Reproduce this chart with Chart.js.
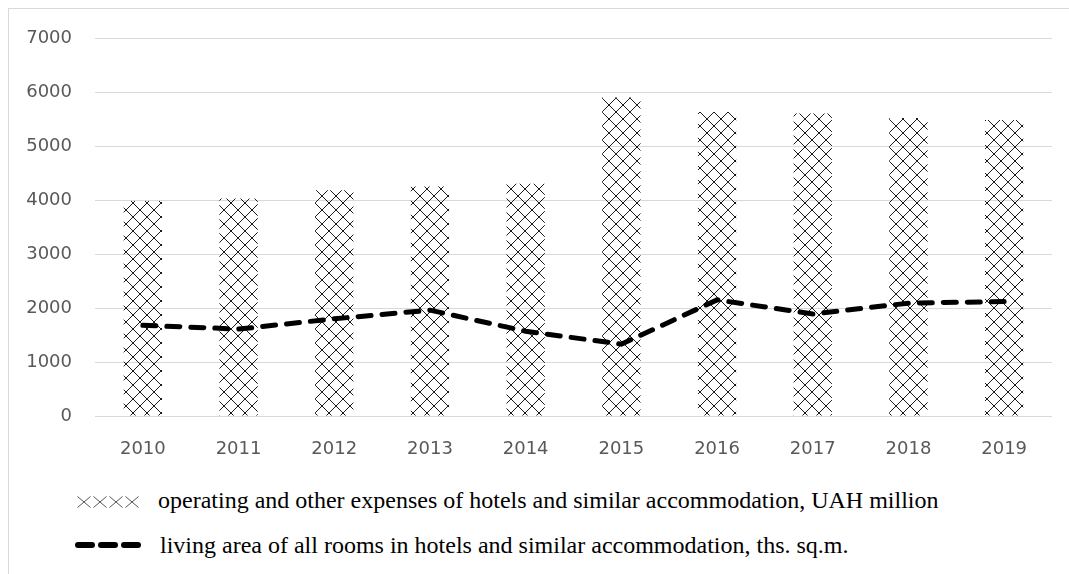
<!DOCTYPE html>
<html>
<head>
<meta charset="utf-8">
<script src="https://cdn.jsdelivr.net/npm/chart.js@4.4.1/dist/chart.umd.min.js"></script>
<style>
  html, body { margin: 0; padding: 0; background: #fff; width: 1069px; height: 574px; overflow: hidden; }
  #frame { position: absolute; left: 8px; top: 8px; width: 1120px; height: 620px; border: 1px solid #d9d9d9; box-sizing: border-box; }
  #wrap { position: absolute; left: 0; top: 0; width: 1069px; height: 470px; }
  .leg { position: absolute; font-family: "Liberation Serif", "Times New Roman", serif; font-size: 24px; color: #000; white-space: nowrap; line-height: 1; }
  .sym { position: absolute; }
</style>
</head>
<body>
<div id="frame"></div>
<div id="wrap"><canvas id="c" width="1069" height="470"></canvas></div>
<canvas class="sym" id="sym1" width="68" height="14" style="left:76px;top:495px"></canvas>
<canvas class="sym" id="sym2" width="70" height="10" style="left:73px;top:540px"></canvas>
<div class="leg" id="leg1" style="left:158px;top:488px"></div>
<div class="leg" id="leg2" style="left:160px;top:533px"></div>
<script>
const categories = ["2010","2011","2012","2013","2014","2015","2016","2017","2018","2019"];
const expenses = [3980, 4030, 4180, 4250, 4300, 5900, 5630, 5600, 5520, 5480];
const livingArea = [1680, 1610, 1800, 1960, 1570, 1330, 2150, 1890, 2090, 2120];
const yTicks = [0, 1000, 2000, 3000, 4000, 5000, 6000, 7000];
const seriesNames = [
  "operating and other expenses of hotels and similar accommodation, UAH million",
  "living area of all rooms in hotels and similar accommodation, ths. sq.m."
];

document.getElementById('leg1').textContent = seriesNames[0];
document.getElementById('leg2').textContent = seriesNames[1];

// crosshatch pattern tile
const P = 14;
const tile = document.createElement('canvas');
tile.width = P; tile.height = P;
const tc = tile.getContext('2d');
tc.fillStyle = '#1a1a1a';
for (let i = 0; i < P; i++) {
  tc.fillRect(i, i, 1, 1);
  tc.fillRect(P - 1 - i, i, 1, 1);
}
const ctx = document.getElementById('c').getContext('2d');
const pattern = ctx.createPattern(tile, 'repeat');

// legend symbols
(function(){
  const s1 = document.getElementById('sym1').getContext('2d');
  s1.strokeStyle = '#555'; s1.lineWidth = 1;
  for (let k = 0; k < 4; k++) {
    const x0 = 1 + k * 16;
    s1.beginPath();
    s1.moveTo(x0 + 0.5, 1.5); s1.lineTo(x0 + 13.5, 12.5);
    s1.moveTo(x0 + 13.5, 1.5); s1.lineTo(x0 + 0.5, 12.5);
    s1.stroke();
  }
  const s2 = document.getElementById('sym2').getContext('2d');
  s2.strokeStyle = '#000'; s2.lineWidth = 6; s2.lineCap = 'round';
  for (let k = 0; k < 3; k++) {
    const x0 = 5 + k * 23;
    s2.beginPath(); s2.moveTo(x0, 5); s2.lineTo(x0 + 14, 5); s2.stroke();
  }
})();

new Chart(ctx, {
  data: {
    labels: categories,
    datasets: [
      {
        type: 'line',
        label: seriesNames[1],
        data: livingArea,
        borderColor: '#000',
        borderWidth: 5,
        borderDash: [13, 11],
        borderCapStyle: 'round',
        pointRadius: 0,
        tension: 0,
        fill: false,
        order: 0
      },
      {
        type: 'bar',
        label: seriesNames[0],
        data: expenses,
        backgroundColor: pattern,
        borderWidth: 0,
        barPercentage: 0.4,
        categoryPercentage: 1.0,
        order: 1
      }
    ]
  },
  options: {
    responsive: false,
    devicePixelRatio: 1,
    animation: false,
    layout: { padding: { top: 38, right: 17, bottom: 0, left: 0 } },
    plugins: { legend: { display: false }, tooltip: { enabled: false } },
    scales: {
      x: {
        grid: { display: false },
        border: { display: false },
        ticks: { color: '#595959', font: { family: 'DejaVu Sans', size: 18 }, padding: 15, maxRotation: 0 },
        afterFit: s => { s.height = 54; }
      },
      y: {
        min: 0, max: 7000,
        afterBuildTicks: s => { s.ticks = yTicks.map(v => ({ value: v })); },
        grid: { color: '#d9d9d9', lineWidth: 1, drawTicks: false },
        border: { display: false },
        ticks: { color: '#595959', font: { family: 'DejaVu Sans', size: 18 }, padding: 23, callback: v => String(v) },
        afterFit: s => { s.width = 95; }
      }
    }
  }
});
</script>
</body>
</html>
